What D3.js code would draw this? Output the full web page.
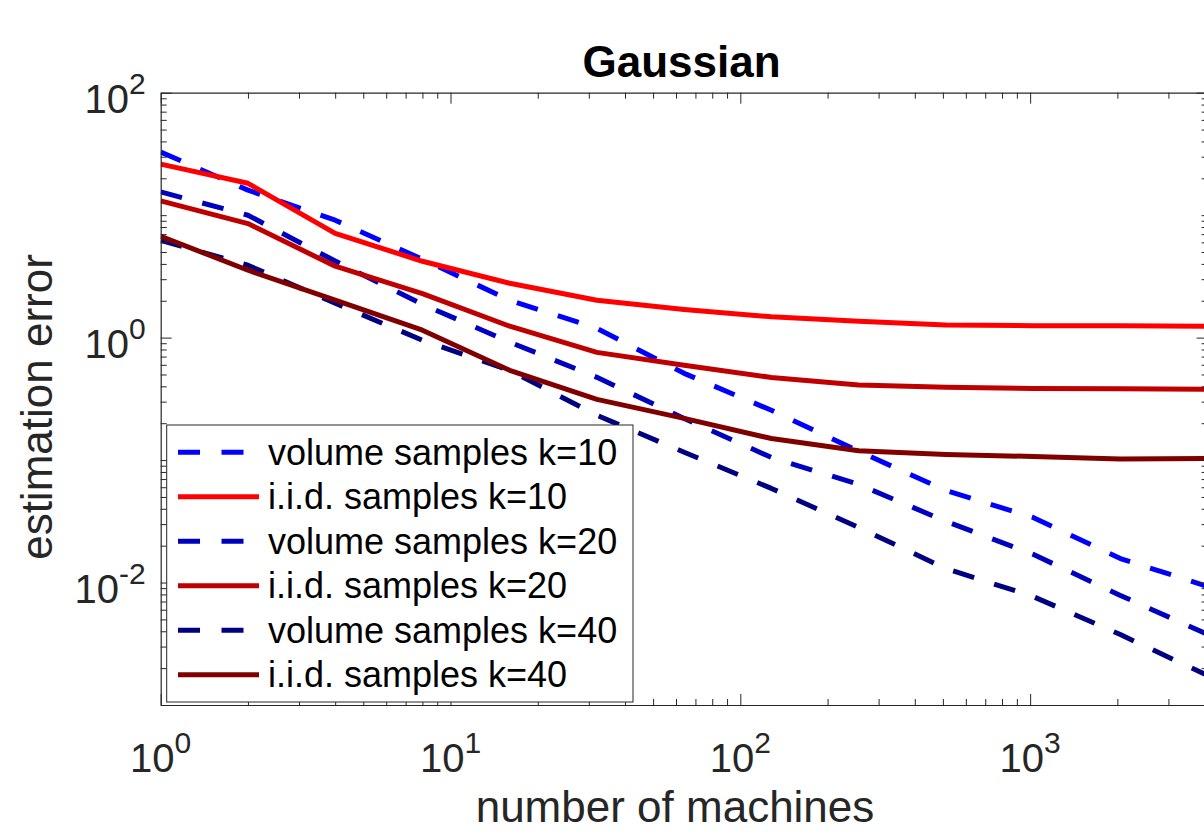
<!DOCTYPE html>
<html>
<head>
<meta charset="utf-8">
<script src="https://cdn.jsdelivr.net/npm/d3@7"></script>
<style>
    body { margin: 0; background: #fff; }
    svg { display: block; font-family: 'Liberation Sans', Arial, sans-serif; }
</style>
</head>
<body>
<div id="chart"></div>
<script>
// number of machines (powers of two)
const machines = [1, 2, 4, 8, 16, 32, 64, 128, 256, 512, 1024, 2048, 4096];

// estimation error
const volK10 = [32.8, 16.0, 9.09, 4.37, 2.02, 1.19, 0.511, 0.255, 0.118, 0.0565, 0.034, 0.0157, 0.0093];
const iidK10 = [26.1, 18.2, 7.1, 4.2, 2.78, 2.02, 1.70, 1.48, 1.36, 1.27, 1.25, 1.25, 1.24];
const volK20 = [15.5, 9.98, 4.22, 1.87, 0.92, 0.474, 0.219, 0.105, 0.0633, 0.0316, 0.017, 0.00785, 0.00377];
const iidK20 = [13.1, 8.54, 3.83, 2.29, 1.24, 0.758, 0.594, 0.473, 0.411, 0.393, 0.385, 0.382, 0.379];
const volK40 = [6.24, 3.90, 1.91, 0.951, 0.541, 0.232, 0.116, 0.0587, 0.0282, 0.013, 0.00769, 0.00376, 0.00174];
const iidK40 = [6.73, 3.55, 2.02, 1.15, 0.541, 0.313, 0.219, 0.150, 0.119, 0.111, 0.107, 0.102, 0.103];

const seriesNames = ['volume samples k=10', 'i.i.d. samples k=10', 'volume samples k=20',
    'i.i.d. samples k=20', 'volume samples k=40', 'i.i.d. samples k=40'];
const seriesValues = [volK10, iidK10, volK20, iidK20, volK40, iidK40];
const seriesColors = ['#0000ff', '#ff0000', '#0000bf', '#bf0000', '#000080', '#800000'];
const seriesDashed = [true, false, true, false, true, false];

const xLabelVals = [1, 10, 100, 1000];
const xLabelExp = ['0', '1', '2', '3'];
const yLabelVals = [1e-2, 1, 1e2];
const yLabelExp = ['-2', '0', '2'];

const width = 1204, height = 832;
const plotLeft = 160.7, plotRight = 1207.6, plotTop = 92.7, plotBottom = 705;
const axisColor = '#262626';

const svg = d3.select('#chart')
    .append('svg')
    .attr('width', width)
    .attr('height', height);

const x = d3.scaleLog().domain([1, 4096]).range([plotLeft, plotRight]);
const y = d3.scaleLog().domain([1e-3, 1e2]).range([plotBottom, plotTop]);

svg.append('defs').append('clipPath').attr('id', 'plotClip')
    .append('rect')
    .attr('x', plotLeft).attr('y', plotTop)
    .attr('width', plotRight - plotLeft).attr('height', plotBottom - plotTop);

// lines
const line = d3.line()
    .x((d, i) => x(machines[i]))
    .y(d => y(d));

const plot = svg.append('g').attr('clip-path', 'url(#plotClip)');
seriesValues.forEach((vals, i) => {
    plot.append('path')
        .datum(vals)
        .attr('fill', 'none')
        .attr('stroke', seriesColors[i])
        .attr('stroke-width', 5)
        .attr('stroke-linejoin', 'round')
        .attr('stroke-dasharray', seriesDashed[i] ? '22,21' : null)
        .attr('d', line);
});

// axes: minor + major ticks on every side, pointing inward
function styleAxis(g, majors, dir) {
    g.select('.domain').attr('stroke', axisColor).attr('stroke-width', 1.2);
    g.selectAll('.tick line')
        .attr('stroke', axisColor)
        .attr('stroke-width', 1)
        .each(function (d) {
            if (majors.some(m => Math.abs(Math.log10(m) - Math.log10(d)) < 1e-9)) {
                const attr = (dir === 'x') ? 'y2' : 'x2';
                const v = +d3.select(this).attr(attr);
                d3.select(this).attr(attr, v * 11 / 6);
            }
        });
    g.selectAll('.tick text').remove();
}

const xTicks = x.ticks();
const yTicks = y.ticks();
const xMajors = [1, 10, 100, 1000];
const yMajors = [1e-2, 1, 1e2];

svg.append('g').attr('transform', `translate(0,${plotBottom})`)
    .call(d3.axisBottom(x).tickValues(xTicks).tickSize(-6).tickSizeOuter(0))
    .call(g => styleAxis(g, xMajors, 'x'));
svg.append('g').attr('transform', `translate(0,${plotTop})`)
    .call(d3.axisTop(x).tickValues(xTicks).tickSize(-6).tickSizeOuter(0))
    .call(g => styleAxis(g, xMajors, 'x'));
svg.append('g').attr('transform', `translate(${plotLeft},0)`)
    .call(d3.axisLeft(y).tickValues(yTicks).tickSize(-6).tickSizeOuter(0))
    .call(g => styleAxis(g, yMajors, 'y'));
svg.append('g').attr('transform', `translate(${plotRight},0)`)
    .call(d3.axisRight(y).tickValues(yTicks).tickSize(-6).tickSizeOuter(0))
    .call(g => styleAxis(g, yMajors, 'y'));

// tick labels as 10^n
const xLab = svg.append('g').attr('fill', axisColor).attr('font-size', 40).attr('text-anchor', 'middle');
xLabelVals.forEach((v, i) => {
    const t = xLab.append('text').attr('x', x(v)).attr('y', plotBottom + 66.7);
    t.append('tspan').text('10');
    t.append('tspan').attr('font-size', 30).attr('dy', -19).text(xLabelExp[i]);
});

const yLab = svg.append('g').attr('fill', axisColor).attr('font-size', 40).attr('text-anchor', 'end');
yLabelVals.forEach((v, i) => {
    const t = yLab.append('text').attr('x', plotLeft - 15).attr('y', y(v) + 20);
    t.append('tspan').text('10');
    t.append('tspan').attr('font-size', 30).attr('dy', -19).text(yLabelExp[i]);
});

// axis labels and title
svg.append('text')
    .attr('x', 675).attr('y', 822)
    .attr('text-anchor', 'middle')
    .attr('font-size', 44)
    .attr('fill', axisColor)
    .text('number of machines');

svg.append('text')
    .attr('transform', 'translate(51.7,407) rotate(-90)')
    .attr('text-anchor', 'middle')
    .attr('font-size', 44)
    .attr('fill', axisColor)
    .text('estimation error');

svg.append('text')
    .attr('x', 681.5).attr('y', 77)
    .attr('text-anchor', 'middle')
    .attr('font-size', 44)
    .attr('font-weight', 'bold')
    .attr('fill', '#000')
    .text('Gaussian');

// legend
const legend = svg.append('g');
legend.append('rect')
    .attr('x', 166.7).attr('y', 425)
    .attr('width', 633 - 166.7).attr('height', 702 - 425)
    .attr('fill', '#fff')
    .attr('stroke', axisColor)
    .attr('stroke-width', 1);

seriesNames.forEach((name, i) => {
    const cy = 452.3 + i * 44.5;
    legend.append('line')
        .attr('x1', 178).attr('x2', 259)
        .attr('y1', cy).attr('y2', cy)
        .attr('stroke', seriesColors[i])
        .attr('stroke-width', 5)
        .attr('stroke-dasharray', seriesDashed[i] ? '22,21.5' : null);
    legend.append('text')
        .attr('x', 268).attr('y', cy)
        .attr('dy', '0.35em')
        .attr('font-size', 36)
        .attr('fill', '#000')
        .text(name);
});
</script>
</body>
</html>
